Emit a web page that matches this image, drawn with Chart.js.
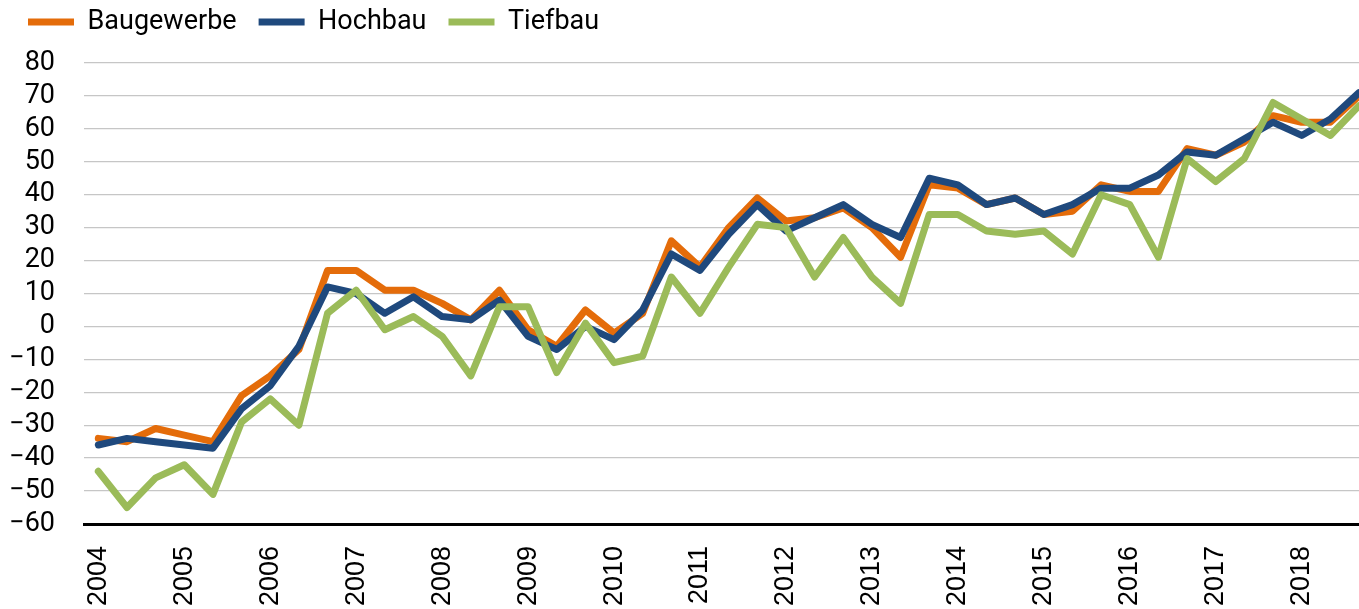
<!DOCTYPE html>
<html>
<head>
<meta charset="utf-8">
<script src="https://cdn.jsdelivr.net/npm/chart.js@4/dist/chart.umd.min.js"></script>
<style>
  html, body { margin: 0; padding: 0; background: #fff; }
  #wrap { width: 1359px; height: 609px; }
</style>
</head>
<body>
<div id="wrap"><canvas id="c" width="1359" height="609"></canvas></div>
<script>
// Year labels (one every 3 observations, 3 observations per year)
const years = ['2004','2005','2006','2007','2008','2009','2010','2011','2012','2013','2014','2015','2016','2017','2018'];
const perYear = 3;

// Series values (45 observations, 2004 to end of 2018)
const baugewerbe = [-34,-35,-31,-33,-35,-21,-15,-7,17,17,11,11,7,2,11,-1,-6,5,-2,4,26,18,30,39,32,33,36,30,21,43,42,37,39,34,35,43,41,41,54,52,56,64,62,62,70];
const hochbau    = [-36,-34,-35,-36,-37,-25,-18,-6,12,10,4,9,3,2,8,-3,-7,0,-4,5,22,17,28,37,29,33,37,31,27,45,43,37,39,34,37,42,42,46,53,52,57,62,58,63,71];
const tiefbau    = [-44,-55,-46,-42,-51,-29,-22,-30,4,11,-1,3,-3,-15,6,6,-14,1,-11,-9,15,4,18,31,30,15,27,15,7,34,34,29,28,29,22,40,37,21,51,44,51,68,63,58,67];

const yTicks = { min: -60, max: 80, step: 10 };

const seriesNames = ['Baugewerbe', 'Hochbau', 'Tiefbau'];
const seriesColors = ['#E46C0A', '#1F497D', '#9BBB59'];
const seriesValues = [baugewerbe, hochbau, tiefbau];

const datasets = seriesValues.map((vals, k) => ({
  label: seriesNames[k],
  data: vals.map((v, i) => ({ x: i, y: v })),
  borderColor: seriesColors[k],
  backgroundColor: seriesColors[k],
  borderWidth: 7,
  pointRadius: 0,
  borderJoinStyle: 'round',
  borderCapStyle: 'round',
  tension: 0,
  fill: false,
  order: 2 - k
}));

new Chart(document.getElementById('c'), {
  type: 'line',
  data: { datasets },
  options: {
    responsive: false,
    animation: false,
    devicePixelRatio: 1,
    layout: { padding: { left: 6, right: 0, top: -13.5, bottom: 0 } },
    plugins: {
      tooltip: { enabled: false },
      title: {
        display: true,
        text: '',
        font: { size: 1, lineHeight: 1 },
        padding: { top: 0, bottom: 16.5 }
      },
      legend: {
        display: true,
        position: 'top',
        align: 'start',
        weight: 3000,
        labels: {
          sort: (a, b) => a.datasetIndex - b.datasetIndex,
          boxWidth: 46,
          boxHeight: 7,
          useBorderRadius: true,
          borderRadius: 3,
          padding: 22,
          color: '#000',
          font: { family: "Roboto, sans-serif", size: 27 },
          generateLabels: (chart) => chart.data.datasets.map((d, i) => ({
            text: d.label,
            fillStyle: d.borderColor,
            strokeStyle: d.borderColor,
            lineWidth: 0,
            hidden: false,
            datasetIndex: i,
            fontColor: '#000'
          }))
        }
      }
    },
    scales: {
      x: {
        type: 'linear',
        min: -0.5,
        max: 44,
        afterBuildTicks: (scale) => {
          scale.ticks = years.map((y, i) => ({ value: i * perYear }));
        },
        afterFit: (scale) => { scale.height = 85; },
        grid: { display: false, drawTicks: false },
        border: { display: true, color: '#000', width: 3 },
        ticks: {
          autoSkip: false,
          maxRotation: 90,
          minRotation: 90,
          padding: 22,
          color: '#000',
          font: { family: "'Liberation Sans', Arial, sans-serif", size: 27 },
          callback: (v) => {
            const idx = Math.round(v / perYear);
            return (v % perYear === 0 && years[idx]) ? years[idx] : '';
          }
        }
      },
      y: {
        min: yTicks.min,
        max: yTicks.max,
        afterFit: (scale) => { scale.width = 78; },
        grid: {
          color: (ctx) => ctx.tick && ctx.tick.value === yTicks.min ? 'rgba(0,0,0,0)' : '#C6C6C6',
          lineWidth: 1.3,
          drawTicks: false
        },
        border: { display: false },
        ticks: {
          autoSkip: false,
          stepSize: yTicks.step,
          padding: 29,
          color: '#000',
          font: { family: "Roboto, sans-serif", size: 27 },
          callback: (v) => v < 0 ? '\u2212' + Math.abs(v) : String(v)
        }
      }
    }
  }
});
</script>
</body>
</html>
